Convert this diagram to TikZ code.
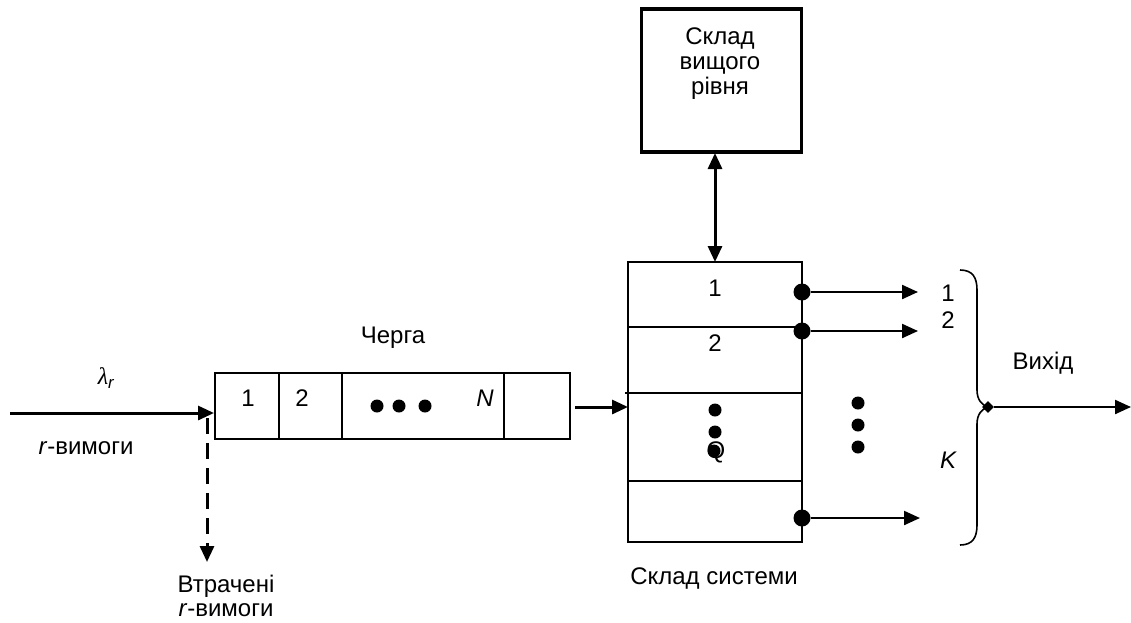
\documentclass[tikz,border=0pt]{standalone}
\usepackage{fontspec}
\setmainfont{Liberation Sans}
\newfontfamily\grkfont{Liberation Serif}
\usetikzlibrary{arrows.meta,shapes.geometric}
\begin{document}
\begin{tikzpicture}[x=1pt,y=-1pt,
  every node/.style={font=\fontsize{24}{24}\selectfont, inner sep=0pt},
  arr/.style={line width=2.2pt,-{Triangle[length=16pt,width=14pt]}},
  thickarr/.style={line width=3pt,-{Triangle[length=16pt,width=14pt]}},
  dblarr/.style={line width=3pt,{Triangle[length=16pt,width=14pt]}-{Triangle[length=16pt,width=14pt]}},
  dot/.style={circle,fill=black,minimum size=17pt},
  smalldot/.style={circle,fill=black,minimum size=13pt},
  cell/.style={draw,line width=1.2pt}
]
\useasboundingbox (0,0) rectangle (1131,622);
% upper warehouse
\node[draw,line width=3.5pt,minimum width=160pt,minimum height=143pt] (upper) at (721.5,80.5) {};
\node[align=center] (uppertext) at (720,64) {Склад\\[1pt]вищого\\[1pt]рівня};
% system warehouse
\node[draw,line width=2.5pt,minimum width=174pt,minimum height=280pt] (sys) at (715,402) {};
\draw[line width=1.2pt] (628,327) -- (802,327);
\draw[line width=1.2pt] (625,393) -- (802,393);
\draw[line width=1.2pt] (628,481) -- (802,481);
\node (s1) at (715,288) {1};
\node (s2) at (715,343) {2};
\node[smalldot] (sd1) at (715,410) {};
\node[smalldot] (sd2) at (715,432) {};
\node[smalldot] (sd3) at (714,451) {};
\node (sq) at (716,452) {Q};
\node[smalldot] (rd1) at (858,403) {};
\node[smalldot] (rd2) at (858,425) {};
\node[smalldot] (rd3) at (858,447) {};
\node (systext) at (714,578) {Склад системи};
% double arrow
\coordinate (ua) at (715,153);
\coordinate (sa) at (715,262);
\draw[dblarr] (ua) -- (sa);
% queue
\node[draw,line width=1.5pt,minimum width=355pt,minimum height=66pt] (q) at (392.5,406) {};
\draw[cell] (279,373) -- (279,439);
\draw[cell] (342,373) -- (342,439);
\draw[cell] (504,373) -- (504,439);
\node (q1) at (248,398) {1};
\node (q2) at (302,398) {2};
\node[smalldot] (qd1) at (377,406) {};
\node[smalldot] (qd2) at (399,406) {};
\node[smalldot] (qd3) at (425,406) {};
\node (qn) at (485,398) {\itshape N};
\node (qlabel) at (393,338) {Черга};
% queue to system
\coordinate (qout) at (575,407);
\coordinate (sin) at (628,407);
\draw[thickarr] (qout) -- (sin);
% input
\coordinate (inst) at (10,413);
\coordinate (inend) at (214,413);
\draw[thickarr] (inst) -- (inend);
\node (lam) at (106,378) {{\grkfont\itshape λ}\textsubscript{\itshape r}};
\node (rv) at (86,448) {\textit{r}-вимоги};
\coordinate (lost0) at (207,418);
\coordinate (lost1) at (207,562);
\draw[line width=3pt,dash pattern=on 16pt off 9pt,-{Triangle[length=16pt,width=14pt]}] (lost0) -- (lost1);
\node[align=center] (lost) at (226,596) {Втрачені\\\textit{r}-вимоги};
% outputs
\node[dot] (o1) at (802,292) {};
\node[dot] (o2) at (802,331) {};
\node[dot] (o3) at (802,518) {};
\coordinate (e1) at (918,292);
\coordinate (e2) at (918,331);
\coordinate (e3) at (920,518);
\draw[arr] (o1) -- (e1);
\draw[arr] (o2) -- (e2);
\draw[arr] (o3) -- (e3);
\node (k1) at (948,293) {1};
\node (k2) at (948,320) {2};
\node (kk) at (948,460) {\itshape K};
% brace
\coordinate (tip) at (988,407);
\draw[line width=1.6pt] (960,270) .. controls (973,270) and (977,278) .. (977,290) -- (977,390) .. controls (977,400) and (982,405) .. (tip);
\draw[line width=1.6pt] (960,545) .. controls (973,545) and (977,537) .. (977,525) -- (977,424) .. controls (977,414) and (982,409) .. (tip);
\node[diamond,fill=black,minimum size=12pt] (dia) at (tip) {};
\coordinate (outend) at (1131,407);
\draw[arr] (dia) -- (outend);
\node (vyh) at (1043,363) {Вихід};
\end{tikzpicture}
\end{document}
